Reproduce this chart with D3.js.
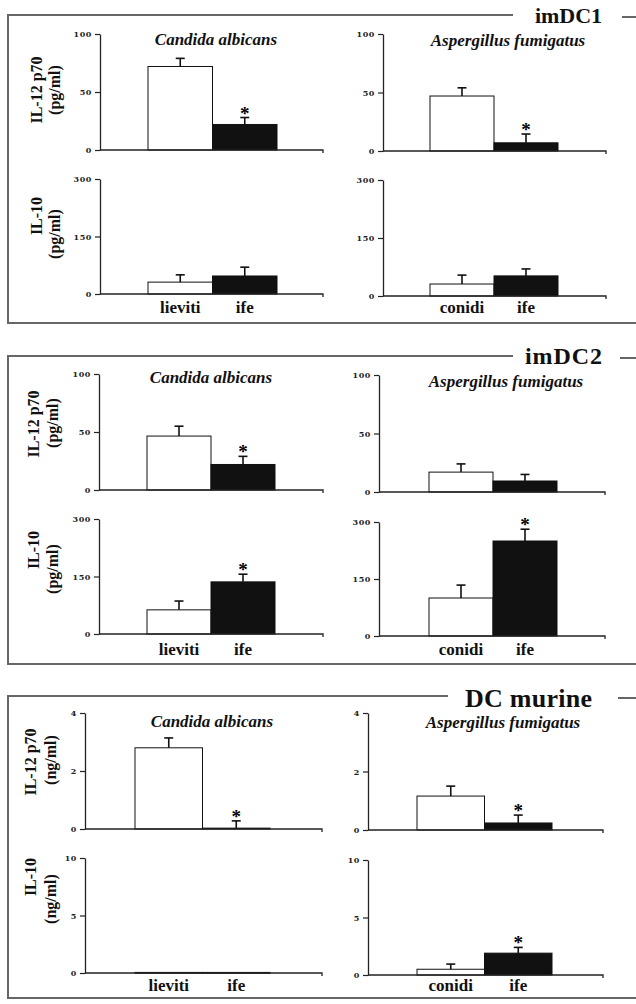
<!DOCTYPE html>
<html><head><meta charset="utf-8">
<script src="https://cdn.jsdelivr.net/npm/d3@7/dist/d3.min.js"></script>
<style>
html,body{margin:0;padding:0;background:#fff;}
svg{display:block;}
</style></head>
<body>
<script>
// ---------- DATA ----------
const panelNames = ["imDC1", "imDC2", "DC murine"];
const organisms = ["Candida albicans", "Aspergillus fumigatus"];
const catsCandida = ["lieviti", "ife"];
const catsAspergillus = ["conidi", "ife"];
const cytokines = ["IL-12 p70", "IL-10"];
const units = ["(pg/ml)", "(pg/ml)", "(ng/ml)"];

// y ticks per panel unit
const ticksPgIL12 = [0, 50, 100];
const ticksPgIL10 = [0, 150, 300];
const ticksNgIL12 = [0, 2, 4];
const ticksNgIL10 = [0, 5, 10];

// values [first category, ife]; errors; significance stars
// imDC1
const imDC1_IL12_candida = [72, 22],   imDC1_IL12_candida_err = [7, 6],     imDC1_IL12_candida_sig = [false, true];
const imDC1_IL12_asper   = [47, 7],    imDC1_IL12_asper_err   = [7, 7.5],   imDC1_IL12_asper_sig   = [false, true];
const imDC1_IL10_candida = [31, 47],   imDC1_IL10_candida_err = [19, 23],   imDC1_IL10_candida_sig = [false, false];
const imDC1_IL10_asper   = [31, 52],   imDC1_IL10_asper_err   = [23, 18],   imDC1_IL10_asper_sig   = [false, false];
// imDC2
const imDC2_IL12_candida = [46.5, 22], imDC2_IL12_candida_err = [8.5, 7],   imDC2_IL12_candida_sig = [false, true];
const imDC2_IL12_asper   = [17, 9.4],  imDC2_IL12_asper_err   = [7, 5.6],   imDC2_IL12_asper_sig   = [false, false];
const imDC2_IL10_candida = [63, 136],  imDC2_IL10_candida_err = [23, 20],   imDC2_IL10_candida_sig = [false, true];
const imDC2_IL10_asper   = [100, 250], imDC2_IL10_asper_err   = [34, 31],   imDC2_IL10_asper_sig   = [false, true];
// DC murine
const mur_IL12_candida = [2.8, 0.03],  mur_IL12_candida_err = [0.34, 0.25], mur_IL12_candida_sig = [false, true];
const mur_IL12_asper   = [1.16, 0.24], mur_IL12_asper_err   = [0.34, 0.27], mur_IL12_asper_sig   = [false, true];
const mur_IL10_candida = [0.05, 0.05], mur_IL10_candida_err = [0, 0],       mur_IL10_candida_sig = [false, false];
const mur_IL10_asper   = [0.5, 1.9],   mur_IL10_asper_err   = [0.45, 0.5],  mur_IL10_asper_sig   = [false, true];

// ---------- LAYOUT ----------
const W = 636, H = 1004;
const serif = "'Liberation Serif','Times New Roman',serif";
const tickFont = "'DejaVu Serif',serif";

const panelLayout = [
  { top: 15, bottom: 323, headerRight: 602, headerW: 67, headerSize: 22, lineEnd: 513, dashStart: 622, headerBase: 23,
    titleBase: [45, 46], titleX: [216, 508], catBase: 313,
    ylabX: [36, 54], ylabY: [[90, 90], [216, 234]],
    cols: [
      { ax: 100, band: [148, 277], end: 323, rows: [{ y0: 150, yt: 34 }, { y0: 294, yt: 179 }] },
      { ax: 383, band: [430, 558], end: 606, rows: [{ y0: 151, yt: 34 }, { y0: 296, yt: 180 }] }
    ] },
  { top: 356, bottom: 664, headerRight: 602, headerW: 77, headerSize: 24, lineEnd: 513, dashStart: 620, headerBase: 364,
    titleBase: [383, 387], titleX: [211, 506], catBase: 655,
    ylabX: [33, 52], ylabY: [[424, 423], [550, 569]],
    cols: [
      { ax: 99, band: [147, 275], end: 323, rows: [{ y0: 490, yt: 374 }, { y0: 634, yt: 519 }] },
      { ax: 379, band: [429, 557], end: 605, rows: [{ y0: 492, yt: 375 }, { y0: 636, yt: 522 }] }
    ] },
  { top: 696, bottom: 998, headerRight: 592, headerW: 127, headerSize: 26, lineEnd: 448, dashStart: 618, headerBase: 707,
    titleBase: [727, 728], titleX: [212, 503], catBase: 991,
    ylabX: [30, 50], ylabY: [[762, 760], [877, 899]],
    cols: [
      { ax: 85, band: [135, 270], end: 322, rows: [{ y0: 829, yt: 713 }, { y0: 973, yt: 858 }] },
      { ax: 368, band: [417, 552], end: 603, rows: [{ y0: 830, yt: 713 }, { y0: 975, yt: 860 }] }
    ] }
];

// assemble data table from the named arrays
const panelData = [
  { ticks: [ticksPgIL12, ticksPgIL10],
    sets: [[[imDC1_IL12_candida, imDC1_IL12_candida_err, imDC1_IL12_candida_sig], [imDC1_IL10_candida, imDC1_IL10_candida_err, imDC1_IL10_candida_sig]],
           [[imDC1_IL12_asper, imDC1_IL12_asper_err, imDC1_IL12_asper_sig], [imDC1_IL10_asper, imDC1_IL10_asper_err, imDC1_IL10_asper_sig]]] },
  { ticks: [ticksPgIL12, ticksPgIL10],
    sets: [[[imDC2_IL12_candida, imDC2_IL12_candida_err, imDC2_IL12_candida_sig], [imDC2_IL10_candida, imDC2_IL10_candida_err, imDC2_IL10_candida_sig]],
           [[imDC2_IL12_asper, imDC2_IL12_asper_err, imDC2_IL12_asper_sig], [imDC2_IL10_asper, imDC2_IL10_asper_err, imDC2_IL10_asper_sig]]] },
  { ticks: [ticksNgIL12, ticksNgIL10],
    sets: [[[mur_IL12_candida, mur_IL12_candida_err, mur_IL12_candida_sig], [mur_IL10_candida, mur_IL10_candida_err, mur_IL10_candida_sig]],
           [[mur_IL12_asper, mur_IL12_asper_err, mur_IL12_asper_sig], [mur_IL10_asper, mur_IL10_asper_err, mur_IL10_asper_sig]]] }
];
const catsByCol = [catsCandida, catsAspergillus];

const svg = d3.select("body").append("svg").attr("width", W).attr("height", H);
svg.append("rect").attr("width", W).attr("height", H).attr("fill", "#fff");

panelLayout.forEach((L, p) => {
  const g = svg.append("g");
  // header text
  g.append("text")
    .attr("x", L.headerRight - L.headerW).attr("y", L.headerBase)
    .attr("textLength", L.headerW).attr("lengthAdjust", "spacing")
    .attr("font-family", serif).attr("font-weight", "bold").attr("font-size", L.headerSize)
    .attr("fill", "#111").text(panelNames[p]);
  const boxStroke = "#666";
  // box: top line (broken by header), left, bottom
  g.append("line").attr("x1", 8).attr("x2", L.lineEnd).attr("y1", L.top).attr("y2", L.top)
    .attr("stroke", boxStroke).attr("stroke-width", 2);
  g.append("line").attr("x1", L.dashStart).attr("x2", W).attr("y1", L.top + 2).attr("y2", L.top + 2)
    .attr("stroke", boxStroke).attr("stroke-width", 2);
  g.append("line").attr("x1", 8).attr("x2", 8).attr("y1", L.top - 1).attr("y2", L.bottom + 1)
    .attr("stroke", boxStroke).attr("stroke-width", 2);
  g.append("line").attr("x1", 7).attr("x2", W).attr("y1", L.bottom).attr("y2", L.bottom)
    .attr("stroke", boxStroke).attr("stroke-width", 2);

  // y labels (left side)
  [0, 1].forEach(r => {
    const lab1 = cytokines[r], lab2 = units[p];
    [[lab1, L.ylabX[0], L.ylabY[r][0]], [lab2, L.ylabX[1], L.ylabY[r][1]]].forEach(([t, x, y]) => {
      g.append("text")
        .attr("transform", `translate(${x},${y}) rotate(-90)`)
        .attr("text-anchor", "middle").attr("dy", "0.35em")
        .attr("font-family", serif).attr("font-weight", "bold").attr("font-size", 16)
        .attr("fill", "#111").text(t);
    });
  });

  L.cols.forEach((C, c) => {
    const cats = catsByCol[c];
    const x = d3.scaleBand().domain(cats).range(C.band).padding(0);
    // organism title
    g.append("text").attr("x", L.titleX[c]).attr("y", L.titleBase[c])
      .attr("text-anchor", "middle")
      .attr("font-family", serif).attr("font-weight", "bold").attr("font-style", "italic")
      .attr("font-size", 17).attr("fill", "#111").text(organisms[c]);

    C.rows.forEach((R, r) => {
      const ticks = panelData[p].ticks[r];
      const [vals, errs, sig] = panelData[p].sets[c][r];
      const y = d3.scaleLinear().domain([0, d3.max(ticks)]).range([R.y0, R.yt]);
      const rows = cats.map((k, i) => ({ k, v: vals[i], e: errs[i], s: sig[i], i }));

      // bars
      g.selectAll(null).data(rows).enter().append("rect")
        .attr("x", d => x(d.k)).attr("width", x.bandwidth())
        .attr("y", d => y(d.v)).attr("height", d => Math.max(0.8, R.y0 - y(d.v)))
        .attr("fill", d => d.i === 0 ? "#fff" : "#111")
        .attr("stroke", "#111").attr("stroke-width", 1);

      // error bars
      rows.filter(d => d.e > 0).forEach(d => {
        const cx = x(d.k) + x.bandwidth() / 2;
        g.append("line").attr("x1", cx).attr("x2", cx).attr("y1", y(d.v)).attr("y2", y(d.v + d.e))
          .attr("stroke", "#111").attr("stroke-width", 1.6);
        g.append("line").attr("x1", cx - 4.5).attr("x2", cx + 4.5).attr("y1", y(d.v + d.e)).attr("y2", y(d.v + d.e))
          .attr("stroke", "#111").attr("stroke-width", 1.6);
      });
      // stars
      rows.filter(d => d.s).forEach(d => {
        const cx = x(d.k) + x.bandwidth() / 2;
        g.append("text").attr("x", cx).attr("y", y(d.v + d.e) + 2)
          .attr("text-anchor", "middle")
          .attr("font-family", serif).attr("font-weight", "bold").attr("font-size", 19)
          .attr("fill", "#000").text("*");
      });

      // x baseline with end tick
      g.append("path")
        .attr("d", `M${C.ax},${R.y0}H${C.end}V${R.y0 + 3}`)
        .attr("fill", "none").attr("stroke", "#222").attr("stroke-width", 1.3);

      // y axis
      const ay = g.append("g").attr("transform", `translate(${C.ax},0)`)
        .call(d3.axisLeft(y).tickValues(ticks).tickSize(5).tickSizeOuter(0).tickPadding(3).tickFormat(d3.format("d")));
      ay.select(".domain").attr("stroke", "#222").attr("stroke-width", 1.3);
      ay.selectAll(".tick line").attr("stroke", "#222").attr("stroke-width", 1.2);
      ay.selectAll(".tick text").attr("font-family", tickFont).attr("font-weight", "bold")
        .attr("font-size", 8).attr("letter-spacing", 0.6).attr("fill", "#222");

      // category labels under lower row
      if (r === 1) {
        g.selectAll(null).data(cats).enter().append("text")
          .attr("x", d => x(d) + x.bandwidth() / 2).attr("y", L.catBase)
          .attr("text-anchor", "middle")
          .attr("font-family", serif).attr("font-weight", "bold").attr("font-size", 17)
          .attr("fill", "#111").text(d => d);
      }
    });
  });
});
</script>
</body></html>
